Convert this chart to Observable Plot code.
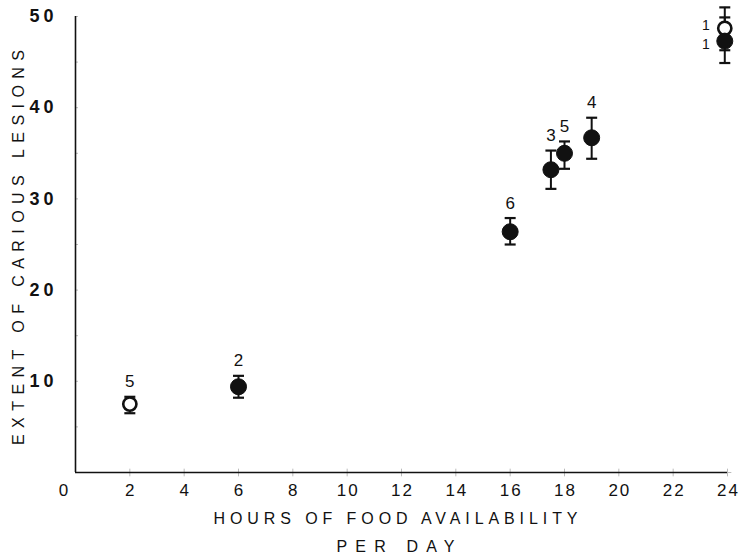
<!DOCTYPE html>
<html>
<head>
<meta charset="utf-8">
<script src="https://cdn.jsdelivr.net/npm/d3@7"></script>
<script src="https://cdn.jsdelivr.net/npm/@observablehq/plot@0.6"></script>
<style>
  html, body { margin: 0; padding: 0; background: #fff; }
  #chart svg { display: block; }
</style>
</head>
<body>
<div id="chart"></div>
<script>
// Hours of food availability per day for each group
const hours = [2, 6, 16, 17.5, 18, 19, 23.9, 23.9];
// Mean extent of carious lesions and the ends of each error bar
const lesions = [7.5, 9.4, 26.4, 33.2, 35.0, 36.7, 48.7, 47.3];
const errLow = [6.5, 8.2, 25.0, 31.1, 33.3, 34.4, 46.3, 44.9];
const errHigh = [8.3, 10.6, 27.9, 35.3, 36.3, 38.9, 51.0, 49.9];
// Number of animals in each group, and whether the group is drawn hollow
const groupSize = ["5", "2", "6", "3", "5", "4", "1", "1"];
const hollow = [true, false, false, false, false, false, true, false];
// Axis ticks
const xTicks = [2, 4, 6, 8, 10, 12, 14, 16, 18, 20, 22, 24];
const yTicks = [10, 20, 30, 40, 50];
const yMinor = [5, 15, 25, 35, 45];
// Axis titles
const xTitle = ["HOURS OF FOOD AVAILABILITY", "PER DAY"];
const yTitle = "EXTENT OF CARIOUS LESIONS";

const groups = hours.map((h, i) => ({
  hours: h, lesions: lesions[i], lo: errLow[i], hi: errHigh[i],
  n: groupSize[i], hollow: hollow[i]
}));
const openGroups = groups.filter(d => d.hollow);
const filledGroups = groups.filter(d => !d.hollow);
// Two groups share the 24 h position; their counts sit to the left
const atEnd = d => d.hours > 23;

// Horizontal cap for the ends of an error bar
const cap = { draw(ctx) { ctx.moveTo(-5.5, 0); ctx.lineTo(5.5, 0); } };

const font = "'Liberation Sans', Arial, sans-serif";
const ink = "#111";
// Lengths the spaced-out titles run over
const xTitleLength = [364, 118];
const yTitleLength = 395;

const chart = Plot.plot({
  width: 742,
  height: 558,
  marginLeft: 75,
  marginRight: 15,
  marginTop: 16,
  marginBottom: 86,
  style: { fontFamily: font, background: "#fff", color: ink },
  x: { domain: [0, 24], axis: null },
  y: { domain: [0, 50], axis: null },
  marks: [
    // faint minor marks along both axes
    Plot.axisY(yMinor, { tickSize: -3, stroke: "#bbb", text: null, label: null }),
    Plot.axisY(yTicks, { tickSize: -3, stroke: "#bbb", text: null, label: null }),
    Plot.dot(xTicks, { x: d => d, y: 0, symbol: "plus", r: 2.6, stroke: "#bbb", strokeWidth: 1 }),
    // tick labels
    Plot.axisY(yTicks, {
      tickSize: 0, tickPadding: 18, label: null, fontSize: 18, fontWeight: "bold"
    }),
    Plot.axisX(xTicks, {
      tickSize: 0, tickPadding: 11, label: null, fontSize: 17, dx: 1
    }),
    Plot.axisX([0], {
      tickSize: 0, tickPadding: 11, label: null, fontSize: 17, dx: -11
    }),
    // axis lines
    Plot.ruleX([0], { y1: 0, y2: 50, stroke: ink, strokeWidth: 1.6 }),
    Plot.ruleY([0], { x1: 0, x2: 24, stroke: ink, strokeWidth: 1.6 }),
    // axis titles
    Plot.text([xTitle[0]], {
      frameAnchor: "bottom", dy: 51, text: d => d, fontSize: 16, fill: ink, dx: -6
    }),
    Plot.text([xTitle[1]], {
      frameAnchor: "bottom", dy: 79, text: d => d, fontSize: 16, fill: ink, dx: -6
    }),
    // rotated title, anchored at its lower end
    Plot.text([yTitle], {
      frameAnchor: "left", dx: -57, dy: 3 + yTitleLength / 2, rotate: -90,
      textAnchor: "start", text: d => d, fontSize: 16, fill: ink
    }),
    // error bars with caps
    Plot.ruleX(groups, { x: "hours", y1: "lo", y2: "hi", stroke: ink, strokeWidth: 2 }),
    Plot.dot(groups, { x: "hours", y: "hi", symbol: cap, stroke: ink, strokeWidth: 2.2 }),
    Plot.dot(groups, { x: "hours", y: "lo", symbol: cap, stroke: ink, strokeWidth: 2.2 }),
    // group means: hollow circles first so the filled ones sit on top
    Plot.dot(openGroups, {
      x: "hours", y: "lesions", r: 6.6, fill: "#fff", stroke: ink, strokeWidth: 2.6
    }),
    Plot.dot(filledGroups, {
      x: "hours", y: "lesions", r: 8, fill: ink, stroke: ink, strokeWidth: 1
    }),
    // group sizes
    Plot.text(groups.filter(d => !atEnd(d)), {
      x: "hours", y: "hi", text: "n", dy: -15, fontSize: 17, fill: ink
    }),
    Plot.text(openGroups.filter(atEnd), {
      x: "hours", y: "lesions", text: "n", dx: -19, dy: -3, fontSize: 14, fill: ink
    }),
    Plot.text(filledGroups.filter(atEnd), {
      x: "hours", y: "lesions", text: "n", dx: -19, dy: 3, fontSize: 14, fill: ink
    })
  ]
});

// Spread the lettering of the axis titles and tick labels
const texts = d3.select(chart).selectAll("text");
const byContent = s => texts.filter(function () { return this.textContent === s; });
const spread = (s, length) =>
  byContent(s).attr("textLength", length).attr("lengthAdjust", "spacing");
spread(xTitle[0], xTitleLength[0]);
spread(xTitle[1], xTitleLength[1]);
spread(yTitle, yTitleLength);
texts.filter(function () {
  return this.parentNode.getAttribute("font-weight") === "bold";
}).attr("letter-spacing", "4px");
texts.filter(function () {
  return this.parentNode.getAttribute("font-size") === "17" &&
    this.parentNode.getAttribute("aria-label") !== "text";
}).attr("letter-spacing", "2px");

document.getElementById("chart").appendChild(chart);
</script>
</body>
</html>
